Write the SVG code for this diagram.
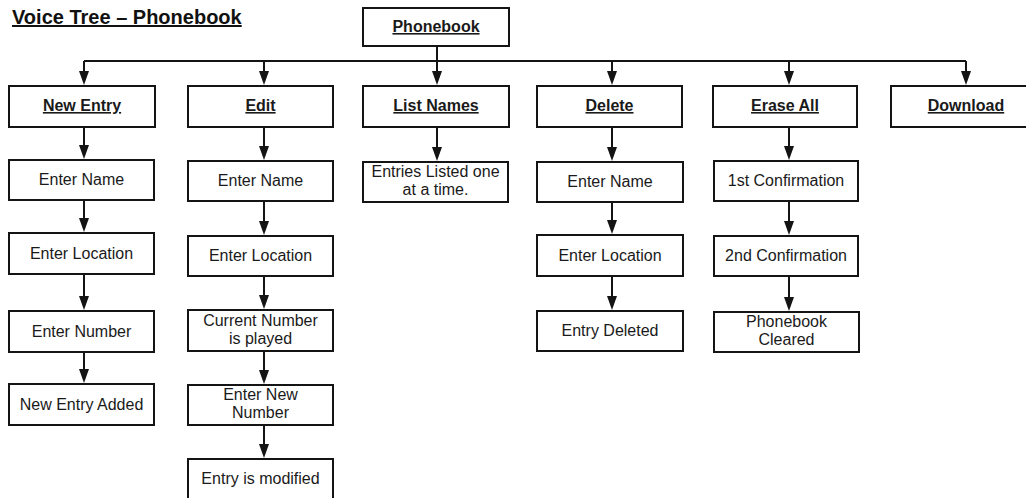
<svg xmlns="http://www.w3.org/2000/svg" width="1026" height="498" viewBox="0 0 1026 498">
<defs>
<style>
.box{fill:#fff;stroke:#141414;stroke-width:2}
.t{font-family:"Liberation Sans",Arial,Helvetica,sans-serif;font-size:16px;fill:#1a1a1a;text-anchor:middle}
.h{font-weight:bold;text-decoration:underline}
.title{font-family:"Liberation Sans",Arial,Helvetica,sans-serif;font-size:20px;font-weight:bold;fill:#111;text-decoration:underline}
.c{fill:none;stroke:#141414;stroke-width:2}
.a{marker-end:url(#arr)}
</style>
<marker id="arr" viewBox="0 0 14 10" markerWidth="14" markerHeight="10" refX="11" refY="5" orient="auto" markerUnits="userSpaceOnUse">
<path d="M0,0 L14,5 L0,10 z" fill="#141414"/>
</marker>
</defs>
<rect width="1026" height="498" fill="#fff"/>
<text class="title" x="12" y="24">Voice Tree – Phonebook</text>

<g id="connectors">
<path class="c" d="M84,61 H966"/>
<path class="c a" d="M437,46 V82"/>
<path class="c a" d="M84,61 V82"/>
<path class="c a" d="M264,61 V82"/>
<path class="c a" d="M612,61 V82"/>
<path class="c a" d="M789,61 V82"/>
<path class="c a" d="M966,61 V82"/>
<path class="c a" d="M84,127 V156"/>
<path class="c a" d="M84,200 V229"/>
<path class="c a" d="M84,274 V307"/>
<path class="c a" d="M84,352 V380"/>
<path class="c a" d="M264,127 V157"/>
<path class="c a" d="M264,201 V232"/>
<path class="c a" d="M264,276 V306"/>
<path class="c a" d="M264,351 V381"/>
<path class="c a" d="M264,425 V455"/>
<path class="c a" d="M437,127 V158"/>
<path class="c a" d="M612,127 V158"/>
<path class="c a" d="M612,202 V231"/>
<path class="c a" d="M612,276 V307"/>
<path class="c a" d="M789,127 V157"/>
<path class="c a" d="M789,201 V232"/>
<path class="c a" d="M789,276 V308"/>
</g>

<g id="phonebook"><rect class="box" x="363" y="8" width="146" height="38"/><text class="t h" x="436" y="32">Phonebook</text></g>

<g id="new-entry"><rect class="box" x="9" y="86" width="146" height="41"/><text class="t h" x="82" y="111">New Entry</text></g>
<g id="edit"><rect class="box" x="188" y="86" width="145" height="41"/><text class="t h" x="260.5" y="111">Edit</text></g>
<g id="list-names"><rect class="box" x="363" y="86" width="146" height="41"/><text class="t h" x="436" y="111">List Names</text></g>
<g id="delete"><rect class="box" x="537" y="86" width="145" height="41"/><text class="t h" x="609.5" y="111">Delete</text></g>
<g id="erase-all"><rect class="box" x="713" y="86" width="144" height="41"/><text class="t h" x="785" y="111">Erase All</text></g>
<g id="download"><rect class="box" x="891" y="86" width="150" height="41"/><text class="t h" x="966" y="111">Download</text></g>

<g id="ne-name"><rect class="box" x="9" y="160" width="145" height="40"/><text class="t" x="81.5" y="185">Enter Name</text></g>
<g id="ne-location"><rect class="box" x="9" y="233" width="145" height="41"/><text class="t" x="81.5" y="259">Enter Location</text></g>
<g id="ne-number"><rect class="box" x="9" y="311" width="145" height="41"/><text class="t" x="81.5" y="337">Enter Number</text></g>
<g id="ne-added"><rect class="box" x="9" y="384" width="145" height="41"/><text class="t" x="81.5" y="410">New Entry Added</text></g>

<g id="ed-name"><rect class="box" x="188" y="161" width="145" height="40"/><text class="t" x="260.5" y="186">Enter Name</text></g>
<g id="ed-location"><rect class="box" x="188" y="236" width="145" height="40"/><text class="t" x="260.5" y="261">Enter Location</text></g>
<g id="ed-current"><rect class="box" x="188" y="310" width="145" height="41"/><text class="t" x="260.5" y="326">Current Number</text><text class="t" x="260.5" y="344">is played</text></g>
<g id="ed-new-number"><rect class="box" x="188" y="385" width="145" height="40"/><text class="t" x="260.5" y="400">Enter New</text><text class="t" x="260.5" y="418">Number</text></g>
<g id="ed-modified"><rect class="box" x="188" y="459" width="145" height="42"/><text class="t" x="260.5" y="484">Entry is modified</text></g>

<g id="ln-entries"><rect class="box" x="363" y="162" width="145" height="40"/><text class="t" x="435.5" y="177">Entries Listed one</text><text class="t" x="435.5" y="195">at a time.</text></g>

<g id="de-name"><rect class="box" x="537" y="162" width="146" height="40"/><text class="t" x="610" y="187">Enter Name</text></g>
<g id="de-location"><rect class="box" x="537" y="235" width="146" height="41"/><text class="t" x="610" y="261">Enter Location</text></g>
<g id="de-deleted"><rect class="box" x="537" y="311" width="146" height="40"/><text class="t" x="610" y="336">Entry Deleted</text></g>

<g id="ea-first"><rect class="box" x="714" y="161" width="144" height="40"/><text class="t" x="786" y="186">1st Confirmation</text></g>
<g id="ea-second"><rect class="box" x="714" y="236" width="144" height="40"/><text class="t" x="786" y="261">2nd Confirmation</text></g>
<g id="ea-cleared"><rect class="box" x="714" y="312" width="145" height="40"/><text class="t" x="786.5" y="327">Phonebook</text><text class="t" x="786.5" y="345">Cleared</text></g>
</svg>
